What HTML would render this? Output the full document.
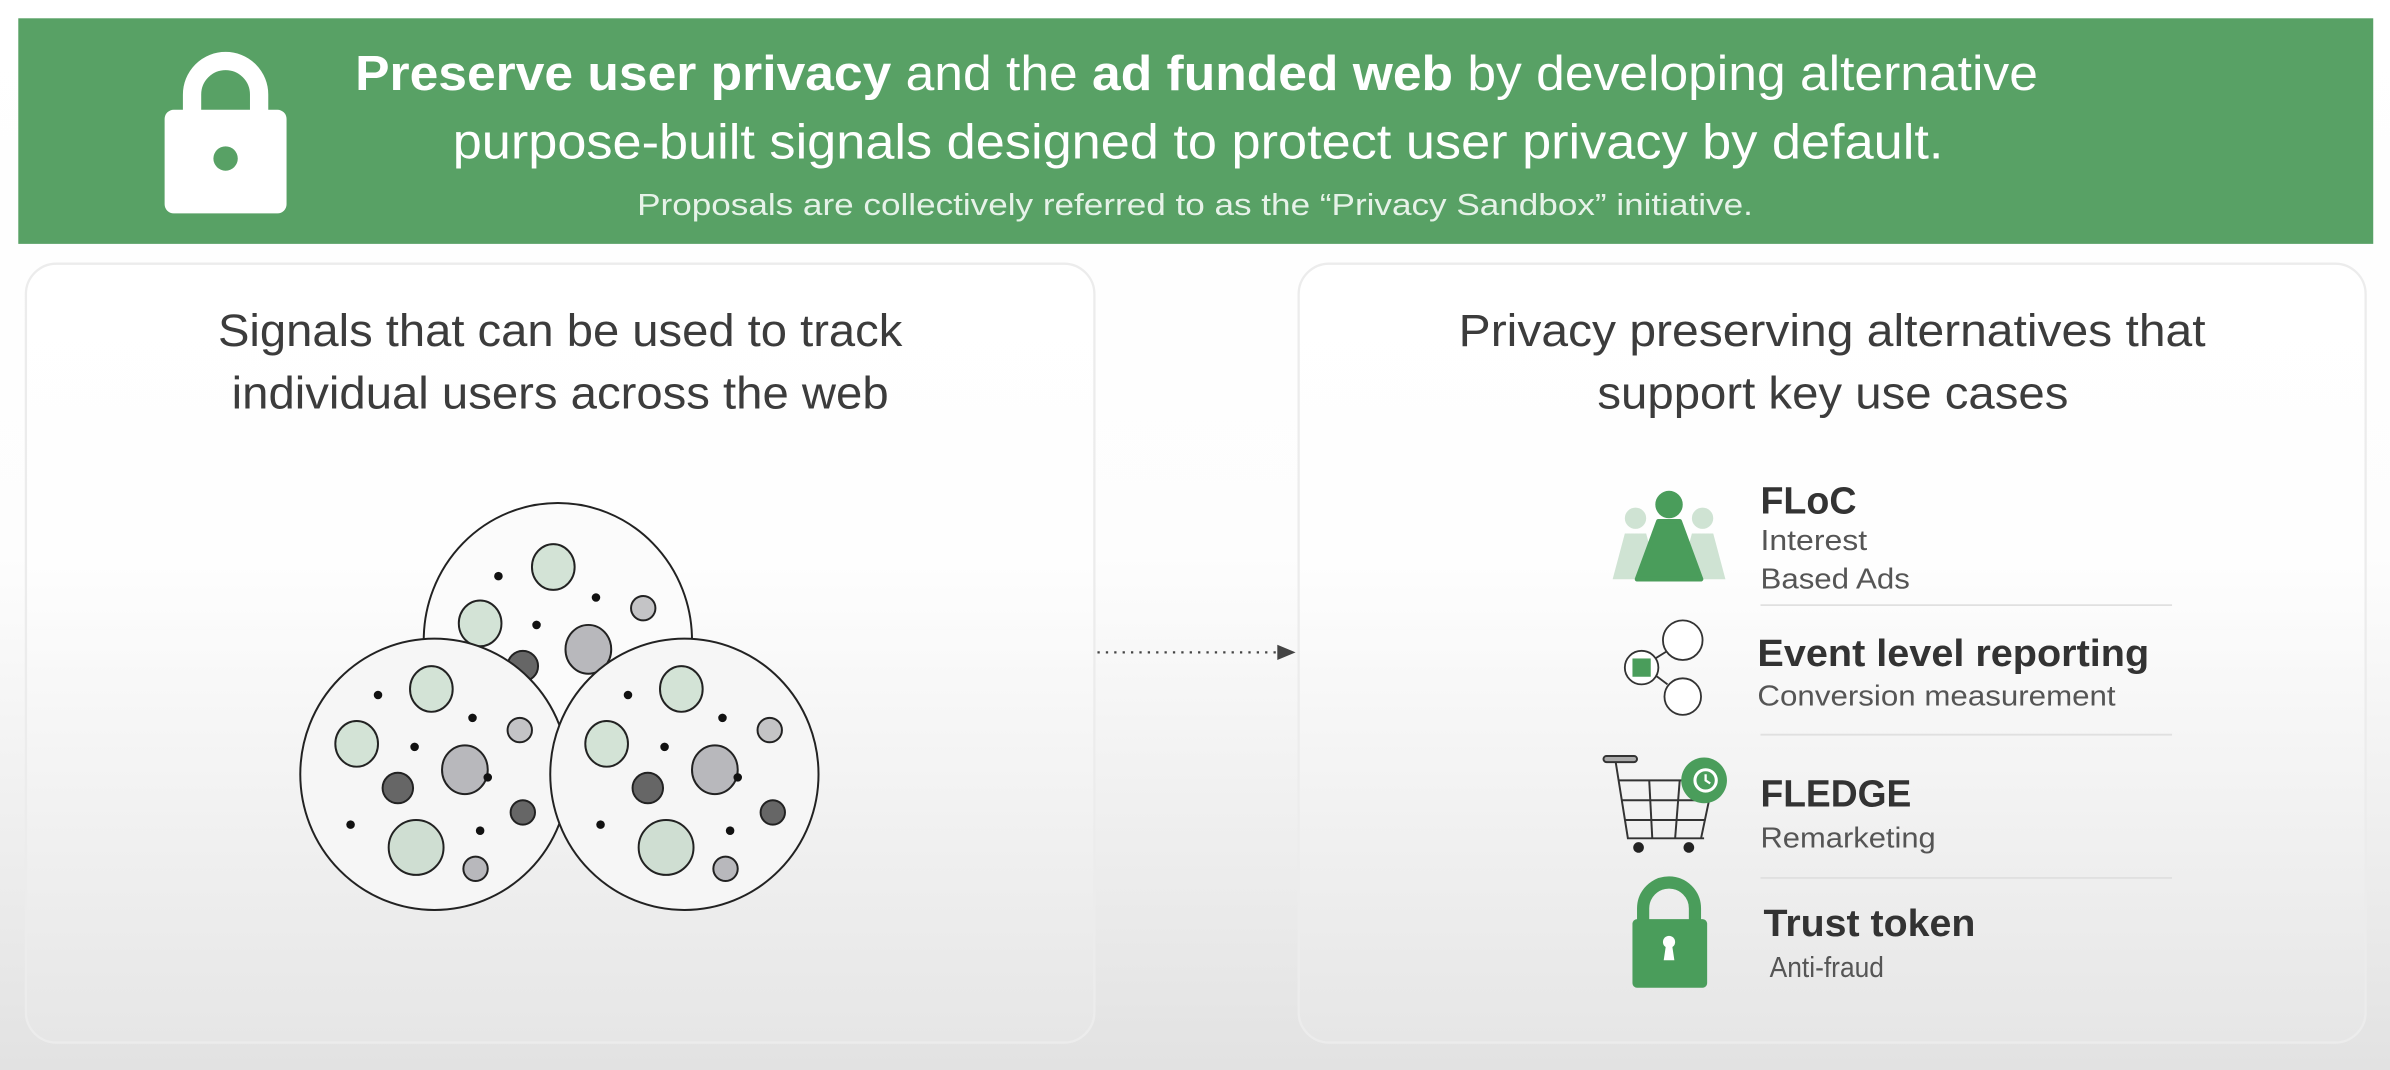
<!DOCTYPE html>
<html><head><meta charset="utf-8"><style>
html,body{margin:0;padding:0;width:2390px;height:1070px;overflow:hidden;background:#fff}
svg{display:block}
text{font-family:"Liberation Sans",sans-serif}
</style></head><body>
<svg width="2390" height="1070" viewBox="0 0 1568 702" preserveAspectRatio="none" xmlns="http://www.w3.org/2000/svg">
<defs>
<linearGradient id="bg" x1="0" y1="0" x2="0" y2="1">
<stop offset="0" stop-color="#ffffff"/><stop offset="0.52" stop-color="#fdfdfd"/><stop offset="1" stop-color="#e2e2e2"/>
</linearGradient>
<linearGradient id="pn" x1="0" y1="0" x2="0" y2="1">
<stop offset="0" stop-color="#ffffff"/><stop offset="0.38" stop-color="#fefefe"/><stop offset="1" stop-color="#e6e6e6"/>
</linearGradient>
</defs>
<rect width="1568" height="702" fill="url(#bg)"/>
<rect x="12" y="12" width="1545" height="148" fill="#58a165"/>
<!-- white lock -->
<path d="M126,74 V62 a22,22 0 0 1 44,0 V74" fill="none" stroke="#fff" stroke-width="12"/>
<rect x="108" y="72" width="80" height="68" rx="6" fill="#fff"/>
<circle cx="148" cy="104" r="8" fill="#58a165"/>
<text x="233" y="59" font-size="32" fill="#fff" textLength="1104" lengthAdjust="spacingAndGlyphs"><tspan font-weight="bold">Preserve user privacy</tspan> and the <tspan font-weight="bold">ad funded web</tspan> by developing alternative</text>
<text x="297" y="104" font-size="32" fill="#fff" textLength="978" lengthAdjust="spacingAndGlyphs">purpose-built signals designed to protect user privacy by default.</text>
<text x="418" y="141" font-size="20" fill="#e6f2e8" textLength="732" lengthAdjust="spacingAndGlyphs">Proposals are collectively referred to as the “Privacy Sandbox” initiative.</text>
<!-- panels -->
<rect x="17" y="173" width="701" height="511" rx="20" fill="url(#pn)" stroke="#ececec" stroke-width="1.5"/>
<rect x="852" y="173" width="700" height="511" rx="20" fill="url(#pn)" stroke="#ececec" stroke-width="1.5"/>
<text x="143" y="227" font-size="30" fill="#3c3c3c" textLength="449" lengthAdjust="spacingAndGlyphs">Signals that can be used to track</text>
<text x="152" y="268" font-size="30" fill="#3c3c3c" textLength="431" lengthAdjust="spacingAndGlyphs">individual users across the web</text>
<text x="957" y="227" font-size="30" fill="#3c3c3c" textLength="490" lengthAdjust="spacingAndGlyphs">Privacy preserving alternatives that</text>
<text x="1048" y="268" font-size="30" fill="#3c3c3c" textLength="309" lengthAdjust="spacingAndGlyphs">support key use cases</text>
<!-- circles -->
<g stroke="#222" stroke-width="1.3">
<ellipse cx="366" cy="420" rx="88" ry="90" fill="#fbfbfb"/>
<ellipse cx="363" cy="372" rx="14" ry="15" fill="#d3e3d6"/>
<ellipse cx="315" cy="409" rx="14" ry="15" fill="#d3e3d6"/>
<ellipse cx="386" cy="426" rx="15" ry="16" fill="#b8b8bc"/>
<ellipse cx="422" cy="399" rx="8" ry="8" fill="#c4c4c6"/>
<ellipse cx="343" cy="437" rx="10" ry="10" fill="#666"/>
</g>
<g fill="#111"><circle cx="327" cy="378" r="2.8"/><circle cx="391" cy="392" r="2.8"/><circle cx="352" cy="410" r="2.8"/></g>
<g id="c1">
<g stroke="#222" stroke-width="1.3">
<ellipse cx="285" cy="508" rx="88" ry="89" fill="#f6f6f6"/>
<ellipse cx="283" cy="452" rx="14" ry="15" fill="#d3e3d6"/>
<ellipse cx="234" cy="488" rx="14" ry="15" fill="#d3e3d6"/>
<ellipse cx="273" cy="556" rx="18" ry="18" fill="#cfded2"/>
<ellipse cx="305" cy="505" rx="15" ry="16" fill="#b8b8bc"/>
<ellipse cx="341" cy="479" rx="8" ry="8" fill="#c4c4c6"/>
<ellipse cx="312" cy="570" rx="8" ry="8" fill="#b8b8bc"/>
<ellipse cx="261" cy="517" rx="10" ry="10" fill="#666"/>
<ellipse cx="343" cy="533" rx="8" ry="8" fill="#666"/>
</g>
<g fill="#111"><circle cx="248" cy="456" r="2.8"/><circle cx="310" cy="471" r="2.8"/><circle cx="272" cy="490" r="2.8"/><circle cx="320" cy="510" r="2.8"/><circle cx="230" cy="541" r="2.8"/><circle cx="315" cy="545" r="2.8"/></g>
</g>
<use href="#c1" transform="translate(164,0)"/>
<!-- arrow -->
<line x1="720" y1="428" x2="838" y2="428" stroke="#444" stroke-width="1.5" stroke-dasharray="1.5,4"/>
<path d="M838,423 L850,428 L838,433 Z" fill="#444"/>
<!-- FLoC icon -->
<g fill="#cfe3d3"><circle cx="1073" cy="340" r="7"/><path d="M1066,350 h14 l8,30 h-30 Z"/><circle cx="1117" cy="340" r="7"/><path d="M1110,350 h14 l8,30 h-30 Z"/></g>
<circle cx="1095" cy="331" r="9" fill="#4a9d5b"/><path d="M1088,342 h14 l14,38 h-42 Z" fill="#4a9d5b" stroke="#4a9d5b" stroke-width="3" stroke-linejoin="round"/>
<text x="1155" y="337" font-size="25" font-weight="bold" fill="#333" textLength="63" lengthAdjust="spacingAndGlyphs">FLoC</text>
<text x="1155" y="361" font-size="19" fill="#555" textLength="70" lengthAdjust="spacingAndGlyphs">Interest</text>
<text x="1155" y="386" font-size="19" fill="#555" textLength="98" lengthAdjust="spacingAndGlyphs">Based Ads</text>
<g stroke="#e0e0e0" stroke-width="1.2"><line x1="1155" y1="397" x2="1425" y2="397"/><line x1="1155" y1="482" x2="1425" y2="482"/><line x1="1155" y1="576" x2="1425" y2="576"/></g>
<!-- event icon -->
<g fill="none" stroke="#333" stroke-width="1.2"><line x1="1086" y1="432" x2="1094" y2="427"/><line x1="1086" y1="443" x2="1094" y2="449"/>
<circle cx="1104" cy="420" r="13" fill="#fff"/><circle cx="1104" cy="457" r="12" fill="#fff"/><circle cx="1077" cy="438" r="11" fill="#fff"/></g>
<rect x="1071" y="432" width="12" height="12" fill="#4a9d5b"/>
<text x="1153" y="437" font-size="25" font-weight="bold" fill="#333" textLength="257" lengthAdjust="spacingAndGlyphs">Event level reporting</text>
<text x="1153" y="463" font-size="19" fill="#555" textLength="235" lengthAdjust="spacingAndGlyphs">Conversion measurement</text>
<!-- cart -->
<g fill="none" stroke="#333" stroke-width="1.3">
<rect x="1052" y="496" width="22" height="4" rx="2" fill="#aaa"/>
<path d="M1060,500 L1068,550 H1118"/><path d="M1062,512 H1124 L1116,550"/>
<line x1="1064" y1="525" x2="1121" y2="525"/><line x1="1066" y1="538" x2="1119" y2="538"/>
<line x1="1082" y1="512" x2="1084" y2="550"/><line x1="1102" y1="512" x2="1099" y2="550"/>
</g>
<circle cx="1075" cy="556" r="3.5" fill="#222"/><circle cx="1108" cy="556" r="3.5" fill="#222"/>
<circle cx="1118" cy="512" r="15" fill="#4a9d5b"/>
<circle cx="1119" cy="512" r="7" fill="none" stroke="#fff" stroke-width="2"/>
<path d="M1119,508 v4 l3,2" fill="none" stroke="#fff" stroke-width="1.5"/>
<text x="1155" y="529" font-size="25" font-weight="bold" fill="#333" textLength="99" lengthAdjust="spacingAndGlyphs">FLEDGE</text>
<text x="1155" y="556" font-size="19" fill="#555" textLength="115" lengthAdjust="spacingAndGlyphs">Remarketing</text>
<!-- green lock -->
<path d="M1078,606 V596 a17,17 0 0 1 34,0 V606" fill="none" stroke="#4a9d5b" stroke-width="8"/>
<rect x="1071" y="603" width="49" height="45" rx="3" fill="#4a9d5b"/>
<circle cx="1095" cy="618" r="4" fill="#fff"/><path d="M1093,620 h4 l1.5,10 h-7 Z" fill="#fff"/>
<text x="1157" y="614" font-size="25" font-weight="bold" fill="#333" textLength="139" lengthAdjust="spacingAndGlyphs">Trust token</text>
<text x="1161" y="641" font-size="19" fill="#555" textLength="75" lengthAdjust="spacingAndGlyphs">Anti-fraud</text>
</svg>
</body></html>
